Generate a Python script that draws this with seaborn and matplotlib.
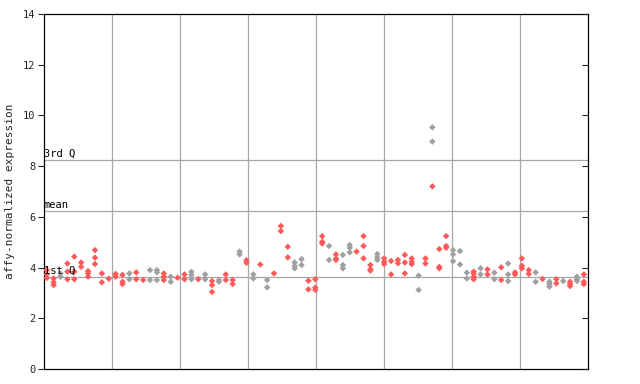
import matplotlib
matplotlib.use("Agg")
import matplotlib.pyplot as plt
import seaborn as sns
import pandas as pd

# values per sample (replicates)
sample_values = [
    [3.9, 3.73, 3.59], [3.57, 3.42, 3.31], [3.77, 3.64], [4.16, 3.84, 3.54],
    [4.43, 3.84, 3.54], [4.2, 4.03], [3.86, 3.77, 3.64], [4.69, 4.39, 4.14],
    [3.77, 3.42], [3.56],
    [3.75, 3.64], [3.71, 3.44, 3.35], [3.77, 3.54], [3.81, 3.54], [3.51],
    [3.9, 3.51], [3.9, 3.81, 3.51], [3.77, 3.64, 3.51], [3.64, 3.44], [3.6],
    [3.73, 3.54], [3.83, 3.71, 3.54], [3.54], [3.73, 3.54], [3.47, 3.31, 3.04],
    [3.51, 3.44], [3.73, 3.51], [3.51, 3.35], [4.63, 4.52], [4.29, 4.19],
    [3.73, 3.57], [4.12], [3.51, 3.22], [3.77], [5.64, 5.44],
    [4.82, 4.4], [4.2, 4.07, 3.97], [4.33, 4.1], [3.48, 3.14], [3.54, 3.21, 3.12],
    [5.24, 5.02, 4.95], [4.85, 4.3], [4.52, 4.36, 4.3], [4.5, 4.1, 3.97], [4.89, 4.78, 4.6],
    [4.63], [5.24, 4.85, 4.36], [4.1, 3.93, 3.88], [4.53, 4.4, 4.3], [4.36, 4.23, 4.14],
    [4.26, 3.73], [4.3, 4.17], [4.5, 4.2, 3.77], [4.36, 4.23, 4.14], [3.68, 3.12],
    [4.36, 4.16], [9.53, 8.97, 7.2], [4.73, 4.03, 3.97], [5.24, 4.85, 4.78], [4.69, 4.52, 4.25],
    [4.65, 4.12], [3.8, 3.57], [3.84, 3.77, 3.64, 3.54], [3.97, 3.73], [3.93, 3.73],
    [3.8, 3.54], [4.01, 3.51], [4.16, 3.73, 3.47], [3.81, 3.73], [4.36, 4.07, 3.97],
    [3.9, 3.75], [3.81, 3.44], [3.55], [3.44, 3.35, 3.25], [3.54, 3.38],
    [3.47], [3.44, 3.35, 3.27], [3.64, 3.54, 3.47], [3.73, 3.44, 3.35],
]

# colour group per sample (r = red, g = gray, m = mixed)
sample_groups = list(
    "rrgrrrrrrr"
    "rrgrrggrgr"
    "rgrgrgrrgr"
    "grgrrrggrr"
    "rgrggrrrgr"
    "rrrrgrmrrg"
    "ggrgrgrgrr"
    "rgrgrgrgr"
)

stat_values = [3.63, 6.22, 8.23]
stat_labels = ["1st Q", "mean", "3rd Q"]
y_ticks = [0, 2, 4, 6, 8, 10, 12, 14]
y_label = "affy-normalized expression"

rows = []
for i, (vals, g) in enumerate(zip(sample_values, sample_groups)):
    for j, v in enumerate(vals):
        if g == "m":
            grp = "gray" if j < 2 else "red"
        else:
            grp = "red" if g == "r" else "gray"
        rows.append({"sample": i, "value": v, "group": grp})
df = pd.DataFrame(rows)

sns.set_style("white")
plt.rcParams["font.family"] = ["DejaVu Sans Mono", "DejaVu Sans"]

fig = plt.figure(figsize=(6.4, 3.84), dpi=100)
ax = fig.add_axes([44 / 640, 15 / 384, 544 / 640, 355 / 384])

xmin, xmax = -0.4, 78.6
ax.set_xlim(xmin, xmax)
ax.set_ylim(0, 14)

grid_c = "#a8a8a8"
for k in range(1, 8):
    ax.axvline(xmin + (xmax - xmin) * k / 8, color=grid_c, lw=0.9, zorder=1)
for v, lab in zip(stat_values, stat_labels):
    ax.axhline(v, color=grid_c, lw=0.9, zorder=1)
    ax.text(xmin, v + 0.06, lab, fontsize=7.5, ha="left", va="bottom", color="black", zorder=4)

sns.scatterplot(data=df, x="sample", y="value", hue="group",
                palette={"red": "#ff5a5a", "gray": "#a0a0a0"},
                marker="D", s=11, linewidth=0, legend=False, ax=ax, zorder=3)

ax.set_xticks([])
ax.set_yticks(y_ticks)
ax.set_yticklabels([str(t) for t in y_ticks], fontsize=7.5)
ax.tick_params(axis="y", direction="out", length=4, width=0.8, left=True, pad=2)
ax.set_xlabel("")
ax.set_ylabel(y_label, fontsize=8, labelpad=6)
for s in ax.spines.values():
    s.set_color("black")
    s.set_linewidth(0.9)

ax2 = ax.twinx()
ax2.set_ylim(0, 14)
ax2.set_yticks(y_ticks)
ax2.set_yticklabels([])
ax2.tick_params(axis="y", direction="in", length=4, width=0.8)
for s in ax2.spines.values():
    s.set_visible(False)

fig.savefig("out.png", dpi=100)
